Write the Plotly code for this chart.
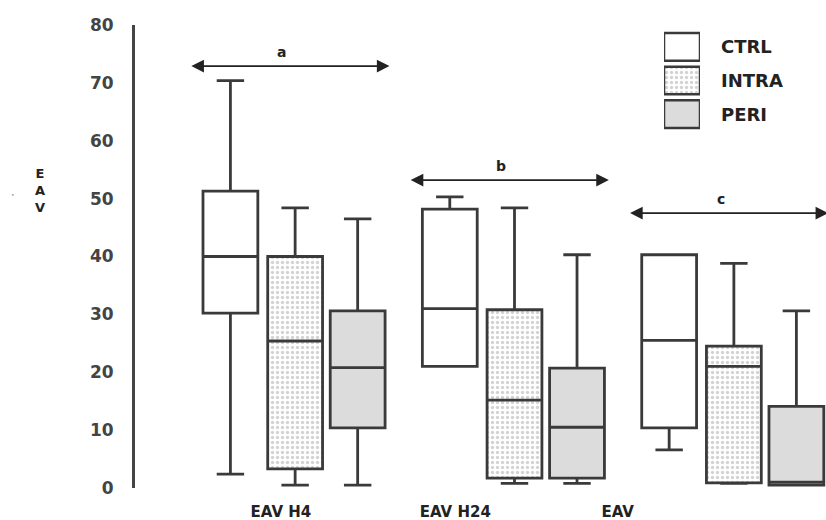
import plotly.graph_objects as go

# ---------------- data ----------------
groups = ["EAV H4", "EAV H24", "EAV"]
series = ["CTRL", "INTRA", "PERI"]

ctrl_low = [2.4, 21.0, 6.6]
ctrl_q1 = [30.2, 21.0, 10.4]
ctrl_med = [40.0, 31.0, 25.5]
ctrl_q3 = [51.3, 48.2, 40.3]
ctrl_up = [70.4, 50.3, 40.3]

intra_low = [0.5, 0.8, 0.8]
intra_q1 = [3.3, 1.7, 0.9]
intra_med = [25.4, 15.2, 21.0]
intra_q3 = [40.0, 30.8, 24.5]
intra_up = [48.4, 48.4, 38.8]

peri_low = [0.5, 0.8, 0.5]
peri_q1 = [10.4, 1.7, 0.5]
peri_med = [20.8, 10.5, 1.0]
peri_q3 = [30.6, 20.7, 14.1]
peri_up = [46.5, 40.3, 30.6]

bracket_letters = ["a", "b", "c"]
y_ticks = [0, 10, 20, 30, 40, 50, 60, 70, 80]

# ---------------- layout helpers ----------------
SL, SR, ST, SB = 135, 826, 25, 488          # plot area in pixels
W, H = 826, 520


def px(x):
    return (x - SL) / (SR - SL)


def py(y):
    return (SB - y) / (SB - ST)


FONT = "DejaVu Sans"
offsets = [-0.295, 0.0, 0.285]
box_w = 0.25
line_col = "#3a3a3a"
fills = ["#ffffff", "rgba(0,0,0,0)", "#dcdcdc"]
dots = dict(shape=".", size=5, solidity=0.35, fgcolor="#a8a8a8", bgcolor="white")

stats = [
    (ctrl_low, ctrl_q1, ctrl_med, ctrl_q3, ctrl_up),
    (intra_low, intra_q1, intra_med, intra_q3, intra_up),
    (peri_low, peri_q1, peri_med, peri_q3, peri_up),
]

fig = go.Figure()

# dotted fill for INTRA boxes (drawn under box outlines)
xs_intra = [g + offsets[1] for g in range(len(groups))]
fig.add_trace(go.Bar(
    x=xs_intra, y=[q3 - q1 for q1, q3 in zip(intra_q1, intra_q3)], base=intra_q1,
    width=box_w, marker=dict(color="white", line=dict(width=0), pattern=dots),
    showlegend=False, hoverinfo="skip"))

for i, name in enumerate(series):
    lo, q1, med, q3, up = stats[i]
    xs = [g + offsets[i] for g in range(len(groups))]
    fig.add_trace(go.Box(
        name=name, x=xs, lowerfence=lo, q1=q1, median=med, q3=q3, upperfence=up,
        width=box_w, whiskerwidth=0.5, fillcolor=fills[i],
        line=dict(color=line_col, width=2.8), marker=dict(opacity=0),
        boxpoints=False, showlegend=False))

# legend inset drawn as patterned bars
leg_fills = [dict(color="white"), dict(color="white", pattern=dots), dict(color="#dcdcdc")]
for i, name in enumerate(series):
    m = dict(leg_fills[i])
    m["line"] = dict(color=line_col, width=2.5)
    fig.add_trace(go.Bar(x=[1], y=[i], base=[0], orientation="h", width=0.82,
                         marker=m, xaxis="x2", yaxis="y2", showlegend=False,
                         hoverinfo="skip"))

annotations = []
for i, name in enumerate(series):
    annotations.append(dict(xref="paper", yref="paper", x=px(719), y=py(46 + 34 * i),
                            text="<b>%s</b>" % name, showarrow=False,
                            xanchor="left", yanchor="middle",
                            font=dict(family=FONT, size=18, color="#222")))

# brackets a, b, c
bracket_y = [72.9, 53.2, 47.5]
for g, letter in enumerate(bracket_letters):
    annotations.append(dict(x=g + 0.43, y=bracket_y[g], ax=g - 0.48, ay=bracket_y[g],
                            xref="x", yref="y", axref="x", ayref="y", text="",
                            showarrow=True, arrowhead=2, startarrowhead=2,
                            arrowside="end+start", arrowsize=1.4, startarrowsize=1.4,
                            arrowwidth=1.8, arrowcolor="#222"))
    annotations.append(dict(x=g - 0.06, y=bracket_y[g] + 2.4, xref="x", yref="y",
                            text="<b>%s</b>" % letter, showarrow=False,
                            font=dict(family=FONT, size=14, color="#222")))

# y title "E A V"
annotations.append(dict(xref="paper", yref="paper", x=px(40), y=py(190),
                        xanchor="center", yanchor="middle",
                        text="<b>E<br>A<br>V</b>", showarrow=False,
                        font=dict(family=FONT, size=13, color="#222"),
                        align="center"))
annotations.append(dict(xref="paper", yref="paper", x=px(13), y=py(194),
                        xanchor="center", yanchor="middle",
                        text="•", showarrow=False,
                        font=dict(family=FONT, size=6, color="#999")))

fig.update_layout(
    width=W, height=H,
    margin=dict(l=SL, r=W - SR, t=ST, b=H - SB),
    paper_bgcolor="white", plot_bgcolor="white",
    barmode="overlay",
    xaxis=dict(range=[-0.73, 2.42], showgrid=False, zeroline=False, showline=False,
               tickvals=[-0.065, 0.73, 1.47], ticktext=["<b>%s</b>" % g for g in groups],
               ticks="", ticklabelstandoff=13,
               tickfont=dict(family=FONT, size=15, color="#222")),
    yaxis=dict(range=[0, 80], tickvals=y_ticks, showgrid=False, zeroline=False,
               showline=True, linecolor="#444", linewidth=3, ticks="",
               ticklabelstandoff=15,
               tickfont=dict(family=FONT, size=17, color="#444", weight="bold")),
    xaxis2=dict(domain=[px(664), px(700)], range=[0, 1], visible=False, anchor="y2"),
    yaxis2=dict(domain=[py(131), py(30)], range=[2.5, -0.5], visible=False, anchor="x2"),
    annotations=annotations,
)

fig.write_html("out.html", config={"displayModeBar": False},
               post_script="document.body.style.margin='0px';"
                           "document.body.style.overflow='hidden';")
